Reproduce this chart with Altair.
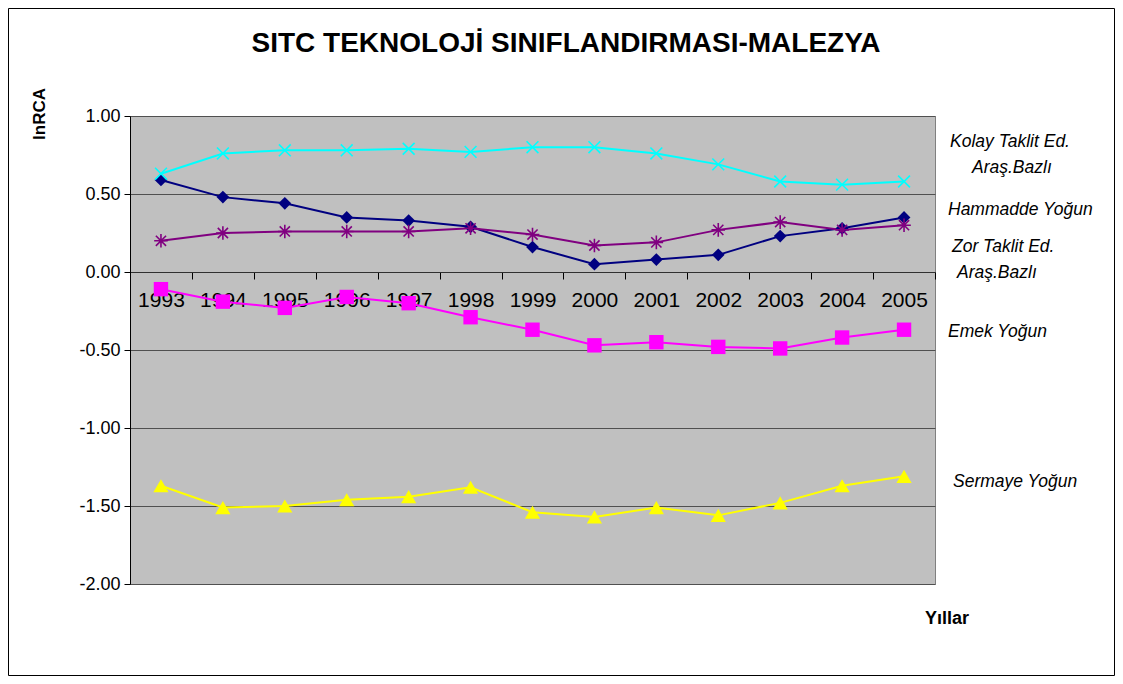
import altair as alt
import pandas as pd

years = ["1993", "1994", "1995", "1996", "1997", "1998", "1999",
         "2000", "2001", "2002", "2003", "2004", "2005"]
kolay = [0.63, 0.76, 0.78, 0.78, 0.79, 0.77, 0.80, 0.80, 0.76, 0.69, 0.58, 0.56, 0.58]
hammadde = [0.59, 0.48, 0.44, 0.35, 0.33, 0.29, 0.16, 0.05, 0.08, 0.11, 0.23, 0.28, 0.35]
zor = [0.20, 0.25, 0.26, 0.26, 0.26, 0.28, 0.24, 0.17, 0.19, 0.27, 0.32, 0.27, 0.30]
emek = [-0.11, -0.19, -0.23, -0.16, -0.20, -0.29, -0.37, -0.47, -0.45, -0.48, -0.49, -0.42, -0.37]
sermaye = [-1.37, -1.51, -1.50, -1.46, -1.44, -1.38, -1.54, -1.57, -1.51, -1.56, -1.48, -1.37, -1.31]

series_names = ["Kolay", "Hammadde", "Zor", "Emek", "Sermaye"]
series_values = [kolay, hammadde, zor, emek, sermaye]
series_colors = ["#00FFFF", "#000080", "#800080", "#FF00FF", "#FFFF00"]
X_PATH = "M-1,-1L1,1M-1,1L1,-1"
STAR_PATH = "M-1,0L1,0M0,-1L0,1M-0.75,-0.75L0.75,0.75M-0.75,0.75L0.75,-0.75"
series_shapes = [X_PATH, "diamond", STAR_PATH, "square", "triangle-up"]
series_sizes = [140, 230, 140, 120, 220]
filled_series = ["Hammadde", "Emek", "Sermaye"]
stroked_series = ["Kolay", "Zor"]

rows = []
for name, vals in zip(series_names, series_values):
    for y, v in zip(years, vals):
        rows.append({"year": y, "value": v, "series": name})
df = pd.DataFrame(rows)

FONT = "Liberation Sans"
W, H = 805, 468

x_enc = alt.X("year:O", title=None,
              scale=alt.Scale(paddingInner=0, paddingOuter=0),
              axis=alt.Axis(offset=-312, tickBand="extent", labelAngle=0,
                            labelFontSize=21, labelFont=FONT, labelColor="black",
                            labelPadding=10, labelOverlap=False,
                            domainColor="#303030", domainWidth=1.2,
                            tickColor="black", tickSize=7, grid=False))
y_enc = alt.Y("value:Q", title=None,
              scale=alt.Scale(domain=[-2, 1], nice=False, zero=False),
              axis=alt.Axis(values=[-2, -1.5, -1, -0.5, 0, 0.5, 1],
                            labelExpr="replace(format(datum.value, '.2f'), '\u2212', '-')",
                            labelFontSize=18, labelFont=FONT, labelColor="black",
                            labelPadding=4, tickSize=6, tickColor="black",
                            domainColor="black", grid=True, gridColor="#505050",
                            gridWidth=1))
color_enc = alt.Color("series:N", legend=None,
                      scale=alt.Scale(domain=series_names, range=series_colors))
shape_enc = alt.Shape("series:N", legend=None,
                      scale=alt.Scale(domain=series_names, range=series_shapes))
size_enc = alt.Size("series:N", legend=None,
                    scale=alt.Scale(domain=series_names, range=series_sizes))

base = alt.Chart(df)
lines = base.mark_line(strokeWidth=2).encode(x=x_enc, y=y_enc, color=color_enc,
                                             detail="series:N")
pts_filled = base.transform_filter(
    alt.FieldOneOfPredicate(field="series", oneOf=filled_series)
).mark_point(filled=True, opacity=1).encode(
    x=x_enc, y=y_enc, color=color_enc, shape=shape_enc, size=size_enc)
pts_stroked = base.transform_filter(
    alt.FieldOneOfPredicate(field="series", oneOf=stroked_series)
).mark_point(filled=False, opacity=1, strokeWidth=1.6).encode(
    x=x_enc, y=y_enc, color=color_enc, shape=shape_enc, size=size_enc)

dummy = pd.DataFrame({"a": [0]})
border = alt.Chart(dummy).mark_rect(filled=False, stroke="black", strokeWidth=1).encode(
    x=alt.value(-121.5), x2=alt.value(984.5), y=alt.value(-107.5), y2=alt.value(559.5))

# annotation text: (text, x, y, size, weight, style, align, angle)
annotations = [
    ("SITC TEKNOLOJİ SINIFLANDIRMASI-MALEZYA", 436, -72, 28, "bold", "normal", "center", 0),
    ("lnRCA", -90, -2, 17, "bold", "normal", "center", 270),
    ("Yıllar", 817, 503, 18, "bold", "normal", "center", 0),
    ("Kolay Taklit Ed.", 820, 26, 17.5, "normal", "italic", "left", 0),
    ("Araş.Bazlı", 842, 52, 17.5, "normal", "italic", "left", 0),
    ("Hammadde Yoğun", 818, 94, 17.5, "normal", "italic", "left", 0),
    ("Zor Taklit Ed.", 822, 131, 17.5, "normal", "italic", "left", 0),
    ("Araş.Bazlı", 827, 157, 17.5, "normal", "italic", "left", 0),
    ("Emek Yoğun", 818, 216, 17.5, "normal", "italic", "left", 0),
    ("Sermaye Yoğun", 823, 366, 17.5, "normal", "italic", "left", 0),
]
texts = []
for t, tx, ty, sz, wt, st, al, ang in annotations:
    texts.append(alt.Chart(dummy).mark_text(
        font=FONT, fontSize=sz, fontWeight=wt, fontStyle=st, align=al,
        baseline="middle", angle=ang, color="black"
    ).encode(x=alt.value(tx), y=alt.value(ty), text=alt.value(t)))

chart = alt.layer(border, lines, pts_filled, pts_stroked, *texts).properties(
    width=W, height=H,
    autosize=alt.AutoSizeParams(type="none"),
    padding={"left": 122, "top": 108, "right": 180, "bottom": 92},
    background="white",
).configure_view(fill="#C0C0C0", stroke="#808080", strokeWidth=1)

chart.save("out.html", embed_options={"renderer": "svg", "actions": False})
